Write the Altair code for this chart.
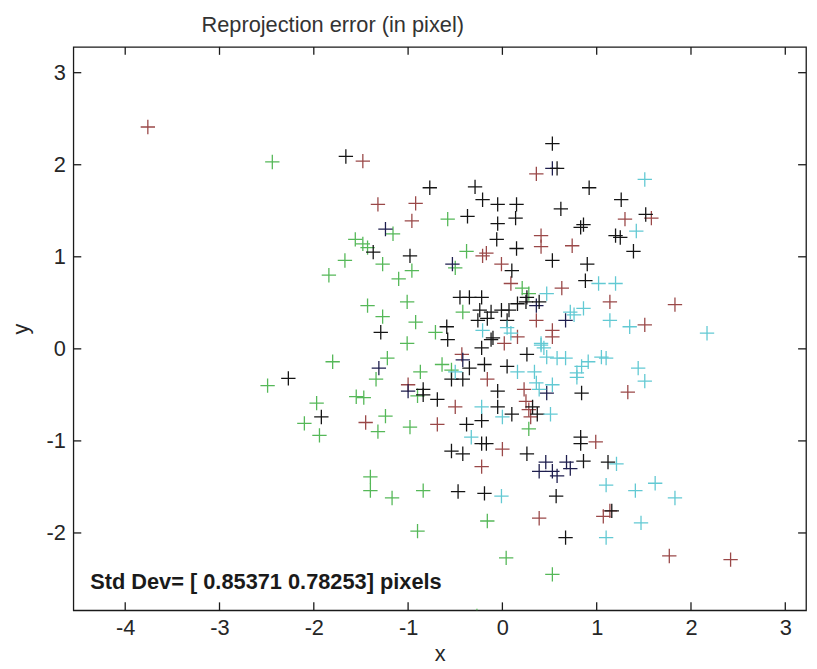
import altair as alt
import pandas as pd

# ---- data ----
red_x = [-3.76, -1.48, -1.32, -0.92, -0.96, 0.36, 1.30, -0.17, -0.21, 0.41, 0.41, 0.74, -0.01, 0.63, 0.09,
         1.14, 0.36, 0.53, 0.53, 0.16, 0.02, 1.58, 1.83, 1.51, 1.33, -0.43, -0.16, 0.23, -1.00, 0.25, 0.28,
         0.30, -0.50, -1.45, -0.69, 0.00, 0.99, 1.14, 1.07, 0.39, 1.77, 2.42, -0.22]
red_y = [2.41, 2.04, 1.57, 1.58, 1.39, 1.90, 1.41, 1.04, 1.01, 1.23, 1.11, 1.12, 0.92, 0.66, 0.71,
         0.51, 0.31, 0.20, 0.13, 0.13, 0.06, 1.42, 0.48, 0.26, -0.47, -0.06, -0.33, -0.44, -0.39, -0.57, -0.66,
         -0.74, -0.63, -0.80, -0.82, -1.09, -1.01, -1.76, -1.82, -1.84, -2.25, -2.29, -1.28]

green_x = [-2.44, -1.84, -1.67, -1.56, -1.48, -1.43, -1.16, -0.58, -1.27, -0.96, -1.10, -0.50, -0.38, 0.21,
           0.28, -1.43, -1.01, -1.27, -0.92, -0.71, -0.42, -1.01, -1.80, -2.49, -1.97, -2.10, -1.94, -1.55,
           -1.22, -0.54, -0.64, -0.87, -1.34, -0.90, -1.47, 0.28, -1.32, -1.24, -0.98, -1.40, -1.40, -1.17,
           -0.84, -0.16, -0.90, 0.04, 0.53, -0.27]
green_y = [2.03, 0.80, 0.96, 1.19, 1.14, 1.10, 1.25, 1.41, 0.92, 0.85, 0.76, 0.88, 1.06, 0.66,
           0.60, 0.47, 0.51, 0.35, 0.29, 0.18, 0.40, 0.06, -0.14, -0.40, -0.59, -0.81, -0.94, -0.52,
           -0.10, -0.23, -0.17, -0.25, -0.33, -0.51, -0.53, -0.87, -0.90, -0.73, -0.85, -1.39, -1.54, -1.62,
           -1.54, -1.87, -1.98, -2.27, -2.45, -2.90]

navy_x = [-1.24, -0.53, 0.53, 0.36, 0.67, -1.31, -0.42, 0.47, 0.46, 0.39, 0.53, 0.58, 0.68, 0.72, -1.00]
navy_y = [1.30, 0.92, 1.96, 0.47, 0.31, -0.21, -0.12, -0.48, -1.23, -1.33, -1.33, -1.38, -1.23, -1.30, -0.46]

black_x = [0.53, 0.58, -1.66, -0.77, -0.29, -0.21, -0.05, 0.15, 0.62, 0.92, 1.26, -0.37, -0.05, 0.14, 0.83,
           0.86, 1.20, 1.25, -1.37, -0.98, -0.06, 0.15, 0.53, 0.90, 1.39, 0.10, 0.88, 0.26, 0.39, -0.45,
           -0.35, -0.22, -1.29, -0.59, -0.24, -0.12, -0.01, 0.07, 0.16, 0.25, -0.26, -0.16, 0.05, -0.10,
           -0.58, 1.52, -0.12, -0.22, 0.26, 0.05, -0.35, -0.19, -0.54, -0.42, 0.84, -0.84, -0.84, -0.69,
           -0.05, -0.05, 0.10, 0.32, 0.37, -0.38, -0.22, -0.22, -0.17, -0.54, -0.42, 0.26, 0.83, 0.83,
           0.86, 1.12, -0.47, -0.19, 0.57, 0.67, -2.27, -1.92, 1.16]
black_y = [2.23, 1.96, 2.09, 1.75, 1.76, 1.62, 1.57, 1.57, 1.52, 1.75, 1.62, 1.44, 1.36, 1.42, 1.32,
           1.35, 1.23, 1.21, 1.05, 1.01, 1.19, 1.09, 0.96, 0.92, 1.06, 0.85, 0.74, 0.56, 0.51, 0.56,
           0.56, 0.56, 0.18, 0.24, 0.42, 0.40, 0.42, 0.42, 0.49, 0.51, 0.31, 0.33, 0.31, 0.12,
           0.10, 1.46, 0.10, 0.01, -0.06, -0.19, -0.21, -0.17, -0.33, -0.33, -0.48, -0.44, -0.50, -0.55,
           -0.46, -0.63, -0.71, -0.63, -0.71, -0.82, -0.78, -1.03, -1.03, -1.11, -1.14, -1.14, -0.96, -1.03,
           -1.22, -1.23, -1.55, -1.57, -1.60, -2.05, -0.32, -0.74, -1.76]

cyan_x = [1.42, 1.02, 1.20, 0.47, 0.72, 0.76, 0.86, 1.14, 1.35, 0.05, 0.09, -0.21, 0.41, 0.41, 0.44, 0.47,
          0.58, 0.67, 0.91, 0.84, 0.79, 0.79, 1.05, 1.10, 1.44, 1.51, -0.50, 0.16, 0.34, 0.36, 0.39, 0.53,
          0.51, -0.22, 0.00, -0.33, 1.21, 1.10, 1.41, 1.62, 1.83, -0.01, 1.10, 1.47, 1.51, 2.17]
cyan_y = [1.28, 0.71, 0.71, 0.60, 0.40, 0.37, 0.44, 0.31, 0.24, 0.23, 0.17, 0.20, 0.06, 0.04, 0.01, -0.09,
          -0.10, -0.10, -0.14, -0.19, -0.26, -0.31, -0.09, -0.10, -0.21, -0.35, -0.25, -0.25, -0.25, -0.37, -0.44, -0.39,
          -0.71, -0.63, -0.74, -0.96, -1.25, -1.48, -1.54, -1.46, -1.62, -1.60, -2.05, -1.89, 1.84, 0.17]

series_names = ["r", "g", "b", "k", "c"]
series_colors = ["#9a4848", "#55b858", "#1e1e4e", "#141414", "#62c9d3"]

x_ticks = [-4, -3, -2, -1, 0, 1, 2, 3]
y_ticks = [-2, -1, 0, 1, 2, 3]
x_domain = [-4.55, 3.22]
y_domain = [-2.84, 3.28]

title_text = "Reprojection error (in pixel)"
std_text = "Std Dev= [ 0.85371 0.78253] pixels"

# ---- build table ----
rows = []
for name, xs_, ys_ in [("r", red_x, red_y), ("g", green_x, green_y), ("b", navy_x, navy_y),
                       ("k", black_x, black_y), ("c", cyan_x, cyan_y)]:
    for a, b in zip(xs_, ys_):
        rows.append({"x": a, "y": b, "s": name})
df = pd.DataFrame(rows)

W, H = 740, 569
FONT = "Liberation Sans"
TXT = "#262626"

xs = alt.Scale(domain=x_domain, nice=False, zero=False)
ys = alt.Scale(domain=y_domain, nice=False, zero=False)

points = alt.Chart(df).mark_point(
    shape="M-1,0L1,0M0,-1L0,1", filled=False, strokeWidth=1.3, size=210, opacity=1, clip=True
).encode(
    x=alt.X("x:Q", scale=xs, axis=alt.Axis(values=x_ticks, labelExpr="toString(datum.value)",
                                          ticks=False, tickSize=0, domain=False, grid=False,
                                          labelFont=FONT, labelFontSize=22, labelColor=TXT, labelPadding=7,
                                          title="x", titleFont=FONT, titleFontSize=22, titleFontWeight="normal",
                                          titleColor=TXT, titlePadding=6)),
    y=alt.Y("y:Q", scale=ys, axis=alt.Axis(values=y_ticks, labelExpr="toString(datum.value)",
                                          ticks=False, tickSize=0, domain=False, grid=False,
                                          labelFont=FONT, labelFontSize=22, labelColor=TXT, labelPadding=8,
                                          title="y", titleFont=FONT, titleFontSize=22, titleFontWeight="normal",
                                          titleColor=TXT, titlePadding=14)),
    color=alt.Color("s:N", scale=alt.Scale(domain=series_names, range=series_colors), legend=None),
)

xt = pd.DataFrame({"t": x_ticks})
yt = pd.DataFrame({"t": y_ticks})
tick_style = dict(color="#1a1a1a", strokeWidth=1.3)
xtop = alt.Chart(xt).mark_rule(**tick_style).encode(x=alt.X("t:Q", scale=xs), y=alt.value(0), y2=alt.value(8))
xbot = alt.Chart(xt).mark_rule(**tick_style).encode(x=alt.X("t:Q", scale=xs), y=alt.value(H - 8), y2=alt.value(H))
yleft = alt.Chart(yt).mark_rule(**tick_style).encode(y=alt.Y("t:Q", scale=ys), x=alt.value(0), x2=alt.value(8))
yright = alt.Chart(yt).mark_rule(**tick_style).encode(y=alt.Y("t:Q", scale=ys), x=alt.value(W - 8), x2=alt.value(W))

ttl = alt.Chart(pd.DataFrame({"t": [title_text]})).mark_text(
    font=FONT, fontSize=22, color="#333333", align="center", baseline="middle"
).encode(text="t:N", x=alt.value(262), y=alt.value(-22))

std = alt.Chart(pd.DataFrame({"t": [std_text]})).mark_text(
    font=FONT, fontSize=22, fontWeight="bold", color="#1a1a1a", align="left", baseline="middle"
).encode(text="t:N", x=alt.value(17), y=alt.value(541))

chart = alt.layer(points, xtop, xbot, yleft, yright, ttl, std).properties(
    width=W, height=H,
    autosize=alt.AutoSizeParams(type="none"),
    padding={"left": 66, "top": 36, "right": 3, "bottom": 56},
    background="white",
).configure_view(stroke="#1a1a1a", strokeWidth=1.3)

chart.save("out.html", embed_options={"renderer": "svg", "actions": False})
